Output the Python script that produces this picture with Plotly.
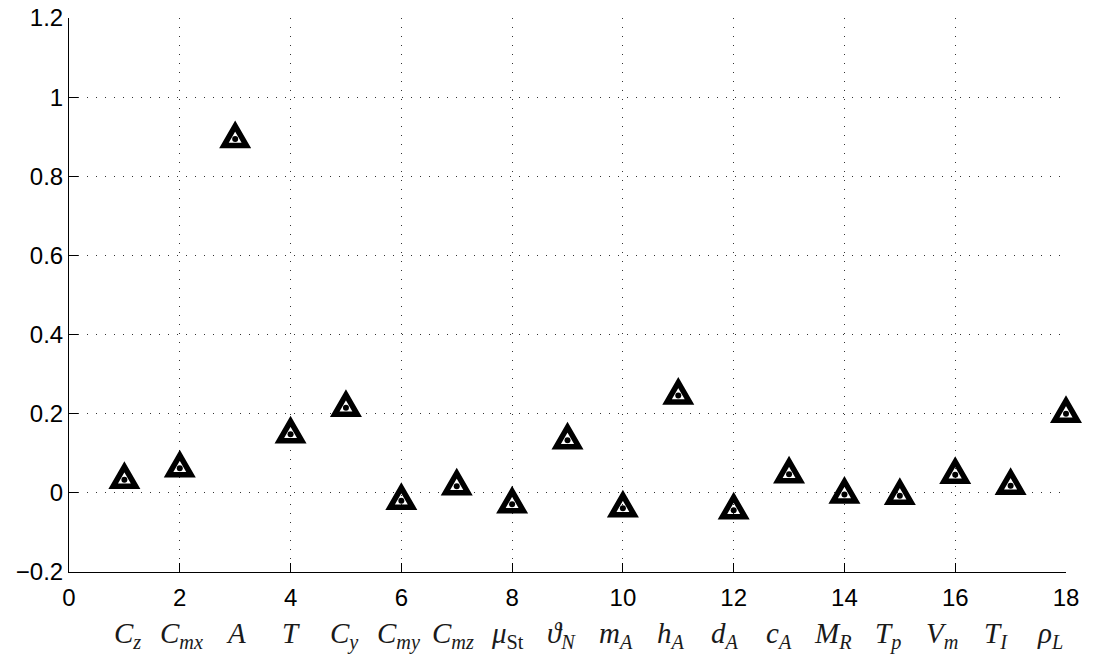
import plotly.graph_objects as go

# Parameter index and the normalised sensitivity of each parameter
param_idx = list(range(1, 19))
sensitivity = [0.033, 0.062, 0.894, 0.148, 0.215, -0.020, 0.017, -0.029, 0.133,
               -0.039, 0.246, -0.044, 0.047, -0.004, -0.007, 0.046, 0.018, 0.200]

# Parameter symbols written under the axis
param_names = [
    "<i>C</i><sub><i>z</i></sub>",
    "<i>C</i><sub><i>mx</i></sub>",
    "<i>A</i>",
    "<i>T</i>",
    "<i>C</i><sub><i>y</i></sub>",
    "<i>C</i><sub><i>my</i></sub>",
    "<i>C</i><sub><i>mz</i></sub>",
    "<i>\u03bc</i><sub>St</sub>",
    "<i>\u03d1</i><sub><i>N</i></sub>",
    "<i>m</i><sub><i>A</i></sub>",
    "<i>h</i><sub><i>A</i></sub>",
    "<i>d</i><sub><i>A</i></sub>",
    "<i>c</i><sub><i>A</i></sub>",
    "<i>M</i><sub><i>R</i></sub>",
    "<i>T</i><sub><i>p</i></sub>",
    "<i>V</i><sub><i>m</i></sub>",
    "<i>T</i><sub><i>I</i></sub>",
    "<i>\u03c1</i><sub><i>L</i></sub>",
]

x_range = [0, 18]
y_range = [-0.2, 1.2]
x_ticks = list(range(0, 19, 2))
y_ticks = [-0.2, 0, 0.2, 0.4, 0.6, 0.8, 1.0, 1.2]
y_ticktext = ["\u22120.2", "0", "0.2", "0.4", "0.6", "0.8", "1", "1.2"]

# Equilateral triangle glyph in pixels, centred on its centroid
TRI = "M -11.25,-6.5 L 11.25,-6.5 L 0,13 Z"

fig = go.Figure()

# Centre dots of the markers
fig.add_trace(go.Scatter(
    x=param_idx, y=sensitivity, mode="markers",
    marker=dict(symbol="circle", size=6, color="black", line=dict(width=0)),
    cliponaxis=False, showlegend=False, hoverinfo="x+y",
))

# Thick triangle outlines around each point; x is given as a fraction of the
# axis domain so the outline at the right edge is not clipped
shapes = []
for xv, yv in zip(param_idx, sensitivity):
    shapes.append(dict(
        type="path", xref="x domain", yref="y",
        xsizemode="pixel", ysizemode="pixel",
        xanchor=(xv - x_range[0]) / (x_range[1] - x_range[0]), yanchor=yv,
        path=TRI, fillcolor="rgba(0,0,0,0)",
        line=dict(color="black", width=5.5),
        layer="above",
    ))

annotations = []
for i, name in enumerate(param_names):
    annotations.append(dict(
        text=name, xref="x", yref="paper",
        x=1.06 + i * 0.98, y=-0.077,
        xanchor="center", yanchor="top", showarrow=False,
        font=dict(family="Liberation Serif", size=29, color="#1a1a1a"),
    ))

grid_style = dict(showgrid=True, gridcolor="#333", gridwidth=1, griddash="1px,8px")
axis_style = dict(
    showline=True, linecolor="black", linewidth=1, mirror=False,
    ticks="inside", ticklen=9, tickcolor="black", tickwidth=1,
    zeroline=False, automargin=False,
    tickfont=dict(family="Liberation Sans", size=24, color="black"),
)

fig.update_layout(
    width=1097, height=659,
    margin=dict(l=69, r=31, t=18, b=87, autoexpand=False),
    plot_bgcolor="white", paper_bgcolor="white",
    shapes=shapes, annotations=annotations,
    xaxis=dict(range=x_range, tickvals=x_ticks, ticklabelstandoff=4,
               **grid_style, **axis_style),
    yaxis=dict(range=y_range, tickvals=y_ticks, ticktext=y_ticktext,
               **grid_style, **axis_style),
    showlegend=False,
)

fig.write_html("out.html")
